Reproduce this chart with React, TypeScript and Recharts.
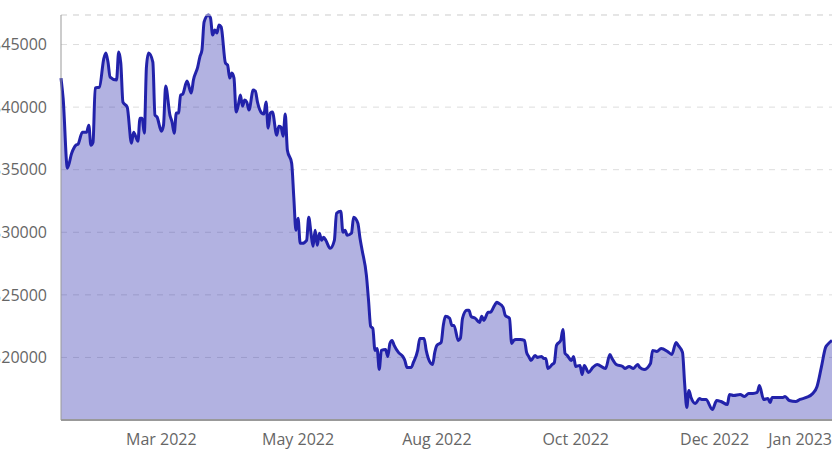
import { AreaChart, Area, XAxis, YAxis, CartesianGrid, ReferenceLine } from 'recharts';

// days since start of series, and closing price
const days = [
  0, 1, 3, 5, 7, 8, 10, 12, 13, 14, 15, 16, 18, 20, 21, 22, 23, 26, 27, 28,
  29, 31, 33, 34, 36, 37, 38, 39, 40, 41, 43, 44, 45, 47, 48, 49, 51, 52, 53, 54,
  55, 56, 57, 59, 61, 62, 64, 65, 66, 67, 69, 70, 71, 72, 73, 74, 75, 77, 78, 79,
  80, 81, 82, 83, 84, 85, 86, 87, 88, 90, 91, 92, 94, 95, 96, 97, 98, 99, 101, 102,
  103, 104, 105, 106, 108, 109, 110, 111, 112, 113, 115, 116, 117, 118, 119, 120, 121, 122, 123, 124,
  126, 128, 129, 131, 132, 133, 134, 136, 137, 139, 140, 141, 143, 144, 145, 146, 147, 148, 149, 150,
  152, 153, 154, 155, 156, 158, 160, 161, 162, 164, 165, 167, 168, 170, 171, 172, 174, 175, 176, 178,
  179, 180, 182, 183, 184, 186, 187, 188, 190, 191, 192, 194, 196, 197, 198, 200, 201, 203, 204, 205,
  207, 208, 210, 211, 212, 213, 215, 217, 218, 219, 220, 222, 223, 225, 226, 227, 228, 230, 231, 232,
  234, 235, 236, 237, 239, 240, 241, 243, 244, 245, 247, 249, 251, 255, 257, 258, 260, 263, 264, 266,
  268, 270, 271, 273, 276, 277, 279, 281, 284, 286, 288, 289, 291, 292, 293, 294, 295, 297, 299, 300,
  302, 305, 307, 309, 312, 313, 315, 318, 320, 322, 324, 326, 327, 329, 331, 332, 333, 336, 338, 339,
  341, 344, 346, 349, 352, 354, 356, 358, 359, 361,
];

const prices = [
  42320, 40720, 35120, 36320, 36960, 37040, 38000, 38000, 38560, 36960, 37200, 41520, 41600, 43840, 44320, 43600, 42400, 42160, 44400, 43520,
  40400, 40000, 37120, 38000, 37280, 39120, 39120, 37920, 43200, 44320, 43600, 39360, 39200, 38080, 38560, 41680, 39360, 38800, 37920, 39520,
  39520, 40960, 41040, 42080, 41120, 42160, 43200, 44000, 44560, 46800, 47360, 47120, 45760, 46160, 45920, 46560, 46400, 43520, 43360, 42320,
  42720, 42320, 39600, 40160, 40960, 40080, 40560, 40400, 39760, 41360, 41280, 40400, 39520, 39440, 40400, 38320, 39520, 39600, 37760, 38480,
  38400, 37680, 39440, 36560, 35520, 32800, 30160, 31120, 29120, 29120, 29360, 31200, 30000, 28880, 30160, 28960, 29920, 29360, 29600, 29360,
  28720, 29360, 31520, 31680, 30000, 30160, 29760, 29920, 31200, 30720, 29520, 28560, 26560, 24560, 22480, 22320, 20560, 20720, 19040, 20560,
  20640, 20080, 21120, 21360, 20960, 20400, 20080, 19760, 19200, 19200, 19600, 20560, 21520, 21520, 20560, 19920, 19440, 20400, 20960, 21200,
  22560, 23280, 23120, 22560, 22560, 21360, 21520, 23120, 23760, 23760, 23280, 23120, 22800, 23280, 22960, 23600, 23600, 24160, 24400, 24320,
  24000, 23360, 23120, 21120, 21360, 21440, 21440, 21360, 20400, 20080, 19760, 20160, 20000, 20080, 19920, 19920, 19120, 19440, 19600, 20960,
  21360, 22240, 20320, 20160, 19760, 20080, 19280, 19360, 18640, 19360, 18800, 19200, 19440, 19120, 20240, 19920, 19440, 19280, 19120, 19280,
  19120, 19440, 19200, 19040, 19520, 20560, 20480, 20720, 20480, 20240, 21200, 20960, 20400, 17920, 16000, 17360, 16800, 16320, 16720, 16640,
  16640, 15840, 16560, 16480, 16240, 17040, 16960, 17040, 16880, 17120, 17120, 17200, 17760, 16640, 16720, 16400, 16800, 16800, 16800, 16880,
  16560, 16480, 16640, 16800, 17120, 17680, 19200, 20800, 21040, 21360,
];

const tickDays = [47, 111, 176, 241, 306, 361];
const tickLabels = ['Mar 2022', 'May 2022', 'Aug 2022', 'Oct 2022', 'Dec 2022', 'Jan 2023'];
const priceTicks = [20000, 25000, 30000, 35000, 40000, 45000];

const data = days.map((day, i) => ({ day, price: prices[i] }));
const maxPrice = Math.max(...prices);

const FONT = '"Open Sans", sans-serif';
const TICK = { fill: '#666', fontSize: 16, fontFamily: FONT };

export default function App() {
  return (
    <div style={{ position: 'absolute', left: 0, top: 0 }}>
      {/* recharts measures tick text with the body font, keep it in sync */}
      <style>{`body { font-family: ${FONT}; font-size: 16px; }`}</style>
      <AreaChart width={832} height={450} data={data} margin={{ top: 15, right: 0, bottom: 0, left: 0 }}>
        <CartesianGrid vertical={false} stroke="#ddd" strokeDasharray="6 6" />
        <ReferenceLine y={maxPrice} stroke="#ddd" strokeDasharray="6 6" />
        <XAxis
          type="number"
          dataKey="day"
          domain={[0, 361]}
          ticks={tickDays}
          tickFormatter={(d) => tickLabels[tickDays.indexOf(d)] ?? ''}
          tick={TICK}
          fontSize={16}
          tickLine={false}
          tickMargin={8}
          axisLine={{ stroke: '#999', strokeWidth: 2 }}
        />
        <YAxis
          width={61}
          domain={[15000, 'dataMax']}
          ticks={priceTicks}
          tickFormatter={(v) => `$${v}`}
          tick={TICK}
          fontSize={16}
          tickLine={false}
          tickMargin={8}
          axisLine={{ stroke: '#999' }}
        />
        <Area
          type="monotone"
          dataKey="price"
          stroke="#2222aa"
          strokeWidth={3}
          fill="#2222aa"
          fillOpacity={0.35}
          isAnimationActive={false}
        />
      </AreaChart>
    </div>
  );
}
